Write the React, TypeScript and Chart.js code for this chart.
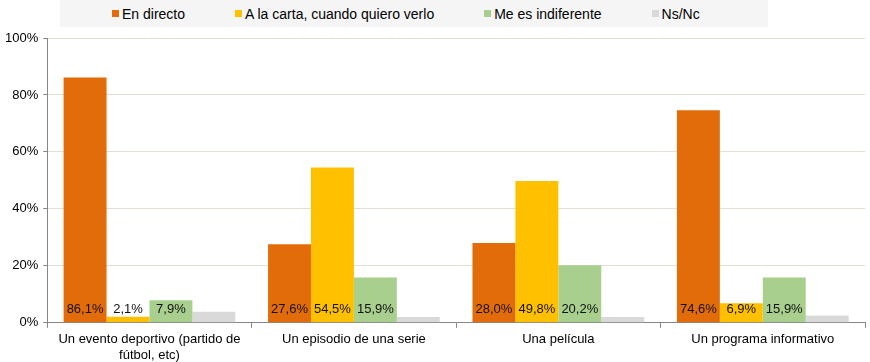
import React, { useEffect, useRef } from "react";
import { Chart, registerables } from "chart.js";

Chart.register(...registerables);

const categories: (string | string[])[] = [
  ["Un evento deportivo (partido de", "fútbol, etc)"],
  "Un episodio de una serie",
  "Una película",
  "Un programa informativo",
];
const enDirecto = [86.1, 27.6, 28.0, 74.6];
const aLaCarta = [2.1, 54.5, 49.8, 6.9];
const indiferente = [7.9, 15.9, 20.2, 15.9];
const nsNc = [3.9, 2.0, 2.0, 2.6];
const seriesNames = ["En directo", "A la carta, cuando quiero verlo", "Me es indiferente", "Ns/Nc"];
const seriesColors = ["#E36C0A", "#FFC000", "#A8CF8E", "#D9D9D9"];
const yTicks = [0, 20, 40, 60, 80, 100];

const FONT = "'Liberation Sans', Arial, sans-serif";

const fmt = (v: number) => v.toFixed(1).replace(".", ",") + "%";

const labelPlugin = {
  id: "barLabels",
  afterDatasetsDraw(chart: any) {
    const ctx = chart.ctx;
    ctx.save();
    ctx.font = `13px ${FONT}`;
    ctx.fillStyle = "#111";
    ctx.textAlign = "center";
    ctx.textBaseline = "middle";
    chart.data.datasets.forEach((ds: any, di: number) => {
      if (di > 2) return;
      const meta = chart.getDatasetMeta(di);
      meta.data.forEach((bar: any, i: number) => {
        const v = ds.data[i];
        ctx.fillText(fmt(v), bar.x, bar.base - 13);
      });
    });
    ctx.restore();
  },
};

export default function App() {
  const ref = useRef<HTMLCanvasElement>(null);
  useEffect(() => {
    const datas = [enDirecto, aLaCarta, indiferente, nsNc];
    const chart = new Chart(ref.current!, {
      type: "bar",
      data: {
        labels: categories,
        datasets: datas.map((d, i) => ({
          label: seriesNames[i],
          data: d,
          backgroundColor: seriesColors[i],
          borderWidth: 0,
          categoryPercentage: 0.84,
          barPercentage: 1,
        })),
      },
      options: {
        animation: false,
        responsive: false,
        maintainAspectRatio: false,
        layout: { padding: { top: 38, right: 5, left: 0, bottom: -5 } },
        plugins: {
          legend: { display: false },
          tooltip: { enabled: false },
        },
        scales: {
          x: {
            grid: {
              offset: true,
              drawOnChartArea: false,
              drawTicks: true,
              tickLength: 5,
              tickColor: "#868686",
            },
            border: { color: "#868686", width: 1 },
            ticks: {
              color: "#000",
              font: { family: FONT, size: 13 },
              padding: 4,
              maxRotation: 0,
              autoSkip: false,
            },
          },
          y: {
            min: 0,
            max: 100,
            afterBuildTicks: (axis: any) => {
              axis.ticks = yTicks.map((v) => ({ value: v }));
            },
            grid: {
              color: "#E3E0D2",
              tickColor: "#868686",
              tickLength: 4,
            },
            border: { color: "#868686", width: 1 },
            ticks: {
              color: "#000",
              font: { family: FONT, size: 13 },
              padding: 5,
              callback: (v: any) => v + "%",
            },
          },
        },
      },
      plugins: [labelPlugin],
    });
    return () => chart.destroy();
  }, []);

  return (
    <div style={{ position: "fixed", left: 0, top: 0, width: 870, height: 362, background: "#fff" }}>
      <canvas ref={ref} width={870} height={362} style={{ position: "absolute", left: 0, top: 0 }} />
      <div
        style={{
          position: "absolute",
          left: 60,
          top: 0,
          width: 708,
          height: 27,
          background: "#F5F5F5",
          display: "flex",
          alignItems: "center",
          paddingLeft: 52,
          boxSizing: "border-box",
          fontFamily: FONT,
          fontSize: 14,
          color: "#000",
        }}
      >
        {seriesNames.map((n, i) => (
          <div key={n} style={{ display: "flex", alignItems: "center", marginRight: 50 }}>
            <span style={{ width: 7, height: 7, background: seriesColors[i], marginRight: 3, display: "inline-block" }} />
            <span>{n}</span>
          </div>
        ))}
      </div>
    </div>
  );
}
